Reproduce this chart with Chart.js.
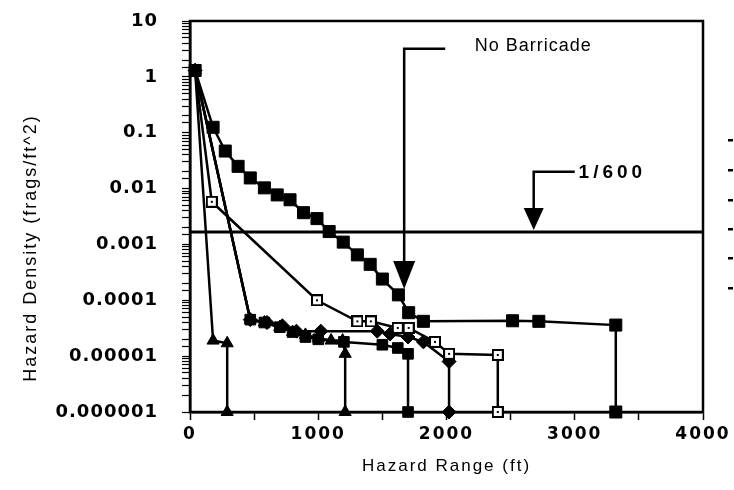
<!DOCTYPE html>
<html>
<head>
<meta charset="utf-8">
<script src="https://cdn.jsdelivr.net/npm/chart.js@4"></script>
<style>
  html, body { margin: 0; padding: 0; background: #fff; }
  #wrap { width: 734px; height: 490px; }
</style>
</head>
<body>
<div id="wrap"><canvas id="chart" width="734" height="490"></canvas></div>
<script>
// Hazard density vs hazard range

// No barricade (filled squares)
const noBarricadeRange = [40, 180, 275, 375, 470, 580, 680, 780, 885, 990, 1085, 1195, 1305, 1405, 1500, 1625, 1705, 1820, 2515, 2720, 3320, 3320];
const noBarricadeDensity = [1.3, 0.125, 0.047, 0.025, 0.0155, 0.0103, 0.0077, 0.0063, 0.0037, 0.0029, 0.0017, 0.0011, 0.00065, 0.00044, 0.00024, 0.000125, 0.00006, 0.000042, 0.000043, 0.000042, 0.000036, 0.000001];

// open squares
const openSqRange = [40, 170, 990, 1305, 1410, 1620, 1705, 1910, 2020, 2400, 2400];
const openSqDensity = [1.3, 0.0058, 0.0001, 0.000042, 0.000042, 0.000032, 0.000032, 0.000018, 0.000011, 0.0000105, 0.000001];

// filled diamonds
const diamondRange = [40, 470, 600, 720, 830, 1020, 1460, 1560, 1700, 1820, 2020, 2020];
const diamondDensity = [1.3, 0.000045, 0.00004, 0.000035, 0.000028, 0.000028, 0.000028, 0.000025, 0.000022, 0.000018, 0.000008, 0.000001];

// filled squares, ends at 1700 ft
const squareRange = [40, 470, 580, 700, 800, 900, 1000, 1200, 1500, 1620, 1700, 1700];
const squareDensity = [1.3, 0.000045, 0.00004, 0.000033, 0.000027, 0.000022, 0.00002, 0.000018, 0.000016, 0.000014, 0.000011, 0.000001];

// triangles, ends at 1200 ft
const triRange = [40, 470, 580, 700, 800, 900, 1000, 1100, 1190, 1210, 1210];
const triDensity = [1.3, 0.000045, 0.00004, 0.000033, 0.000027, 0.000024, 0.000021, 0.000019, 0.000019, 0.000011, 0.000001];

// triangles, ends at 290 ft
const shortTriRange = [40, 180, 290, 290];
const shortTriDensity = [1.3, 0.000019, 0.000017, 0.000001];

const limitRange = [0, 4000];
const limitDensity = [1 / 600, 1 / 600];

const rangeTickLabels = ['0', '1000', '2000', '3000', '4000'];
const densityTickLabels = ['0.000001', '0.00001', '0.0001', '0.001', '0.01', '0.1', '1', '10'];

function pts(xs, ys) {
    return xs.map((x, i) => ({ x: x, y: ys[i] }));
}

function openSquare() {
    const c = document.createElement('canvas');
    c.width = 12; c.height = 12;
    const g = c.getContext('2d');
    g.fillStyle = '#000'; g.fillRect(0, 0, 12, 12);
    g.fillStyle = '#fff'; g.fillRect(2, 2, 8, 8);
    g.fillStyle = '#000'; g.fillRect(5, 5, 2, 2);
    return c;
}

function series(xs, ys, style, radius) {
    return {
        data: pts(xs, ys),
        borderColor: '#000',
        backgroundColor: '#000',
        borderWidth: 2.5,
        pointStyle: style,
        pointRadius: radius,
        pointHoverRadius: radius,
        pointBorderWidth: 1,
        tension: 0,
        clip: false
    };
}

function arrowDown(ctx, x, yTop, yTip, hx, hy, xEnd) {
    ctx.beginPath();
    ctx.moveTo(xEnd, yTop);
    ctx.lineTo(x, yTop);
    ctx.lineTo(x, yTip - hy + 2);
    ctx.stroke();
    ctx.beginPath();
    ctx.moveTo(x - hx / 2, yTip - hy);
    ctx.lineTo(x + hx / 2, yTip - hy);
    ctx.lineTo(x, yTip);
    ctx.closePath();
    ctx.fill();
}

const figureBits = {
    id: 'figureBits',
    beforeDraw(chart) {
        // axis title + x tick labels spacing
        chart.ctx.letterSpacing = '2px';
    },
    beforeDatasetsDraw(chart) {
        const { ctx, chartArea: a } = chart;
        ctx.save();
        ctx.strokeStyle = '#000';
        ctx.lineWidth = 2.5;
        ctx.strokeRect(a.left, a.top, a.right - a.left, a.bottom - a.top);
        ctx.restore();
    },
    afterDatasetsDraw(chart) {
        const { ctx } = chart;
        const xs = chart.scales.x, ys = chart.scales.y;
        ctx.save();
        ctx.strokeStyle = '#000';
        ctx.fillStyle = '#000';
        ctx.lineWidth = 2.5;

        // No Barricade arrow
        const nbX = xs.getPixelForValue(1670);
        const nbTop = ys.getPixelForValue(3.2);
        arrowDown(ctx, nbX, nbTop, ys.getPixelForValue(0.00016), 22, 28, xs.getPixelForValue(1990));
        ctx.font = '18px "Liberation Sans", Arial, sans-serif';
        ctx.letterSpacing = '1px';
        ctx.textBaseline = 'middle';
        ctx.fillText('No Barricade', xs.getPixelForValue(2220), nbTop - 3);

        // 1/600 arrow
        const lX = xs.getPixelForValue(2680);
        const lTop = ys.getPixelForValue(0.02);
        arrowDown(ctx, lX, lTop, ys.getPixelForValue(1 / 600) - 2, 20, 22, xs.getPixelForValue(3000));
        ctx.font = 'bold 19px "Liberation Sans", Arial, sans-serif';
        ctx.letterSpacing = '4px';
        ctx.fillText('1/600', xs.getPixelForValue(3030), lTop + 1);
        ctx.restore();

        // y tick labels are drawn after this (ticks.z = 1)
        ctx.letterSpacing = '1px';
    },
    afterDraw(chart) {
        const { ctx } = chart;
        ctx.letterSpacing = '0px';
        ctx.save();
        ctx.fillStyle = '#000';
        ctx.font = '18px "Liberation Sans", Arial, sans-serif';
        ctx.letterSpacing = '2px';
        ctx.textAlign = 'center';
        ctx.textBaseline = 'middle';
        ctx.translate(31, 248);
        ctx.rotate(-Math.PI / 2);
        ctx.fillText('Hazard Density (frags/ft^2)', 0, 0);
        ctx.restore();

        // cut-off legend marks at the right edge
        ctx.save();
        ctx.fillStyle = '#000';
        [140, 170, 200, 229, 258, 288].forEach(y => ctx.fillRect(728, y - 1, 5, 2.5));
        ctx.restore();
    }
};

new Chart(document.getElementById('chart'), {
    type: 'line',
    data: {
        datasets: [
            series(noBarricadeRange, noBarricadeDensity, 'rect', 8.5),
            series(openSqRange, openSqDensity, openSquare(), 6),
            series(diamondRange, diamondDensity, 'rectRot', 7),
            series(squareRange, squareDensity, 'rect', 7.5),
            series(triRange, triDensity, 'triangle', 7),
            series(shortTriRange, shortTriDensity, 'triangle', 7),
            {
                data: pts(limitRange, limitDensity),
                borderColor: '#000',
                borderWidth: 3,
                pointRadius: 0,
                tension: 0
            }
        ]
    },
    options: {
        responsive: false,
        animation: false,
        devicePixelRatio: 1,
        layout: { padding: { top: 21, right: 31, bottom: 0, left: 0 } },
        plugins: {
            legend: { display: false },
            tooltip: { enabled: false }
        },
        scales: {
            x: {
                type: 'linear',
                min: 0,
                max: 4000,
                afterFit: s => { s.height = 78; },
                ticks: {
                    stepSize: 500,
                    autoSkip: false,
                    maxRotation: 0,
                    padding: 4,
                    color: '#000',
                    font: { family: '"DejaVu Sans", sans-serif', size: 17, weight: 'bold' },
                    callback: v => (v % 1000 === 0 ? rangeTickLabels[v / 1000] : '')
                },
                grid: { drawOnChartArea: false, tickLength: 8, color: '#000', tickWidth: 1.5 },
                border: { display: true, color: '#000', width: 2.5 },
                title: {
                    display: true,
                    text: 'Hazard Range (ft)',
                    color: '#000',
                    padding: { top: 0, bottom: 13 },
                    font: { family: '"Liberation Sans", Arial, sans-serif', size: 17 }
                }
            },
            y: {
                type: 'logarithmic',
                min: 0.000001,
                max: 10,
                afterFit: s => {
                    s.width = 190;
                    s.paddingTop = 0;
                    s.paddingBottom = 0;
                },
                ticks: {
                    z: 1,
                    autoSkip: false,
                    padding: 24,
                    color: '#000',
                    font: { family: '"DejaVu Sans", sans-serif', size: 18, weight: 'bold' },
                    callback: v => {
                        const e = Math.log10(v);
                        const r = Math.round(e);
                        if (Math.abs(e - r) > 1e-6) return '';
                        return densityTickLabels[r + 6] || '';
                    }
                },
                grid: { drawOnChartArea: false, tickLength: 8, color: '#000', tickWidth: 1.2 },
                border: { display: true, color: '#000', width: 2.5 }
            }
        }
    },
    plugins: [figureBits]
});
</script>
</body>
</html>
